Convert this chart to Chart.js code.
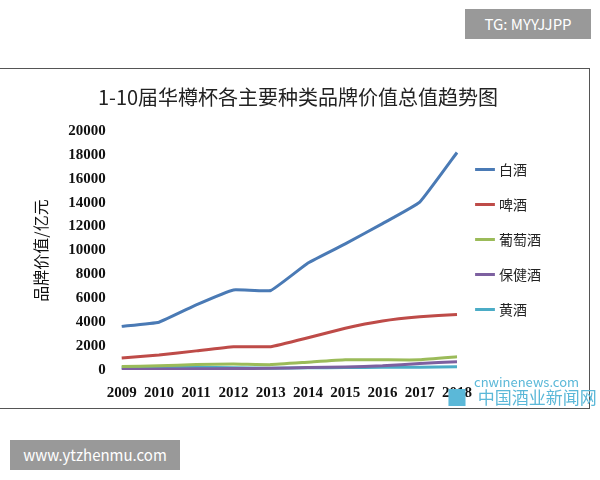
<!DOCTYPE html>
<html><head><meta charset="utf-8">
<script src="https://cdn.jsdelivr.net/npm/chart.js@4"></script>
<style>
body{margin:0;width:600px;height:480px;background:#fff;position:relative;overflow:hidden;font-family:"Noto Sans CJK SC",sans-serif}
#frame{position:absolute;left:0;top:68px;width:589px;height:339px;border:1px solid #555;border-left:none}
#wrap{position:absolute;left:0;top:0;width:589px;height:339px}
.tag{position:absolute;background:#999;color:#fff;font-size:15px}
#wm{position:absolute;left:440px;top:374px;color:#5bb8d8;font-size:13px;line-height:15px}
</style></head><body>
<div class="tag" style="left:465px;top:9px;width:126px;height:30px;line-height:30px;text-align:center">TG: MYYJJPP</div>
<div id="frame"><div id="wrap"><canvas id="c"></canvas></div></div>
<div id="wm"><span style="margin-left:34px">cnwinenews.com</span><br><span style="font-size:17px">▐▌ 中国酒业新闻网</span></div>
<div class="tag" style="left:10px;top:440px;width:170px;height:30px;line-height:30px;text-align:center;color:#fff">www.ytzhenmu.com</div>
<script>
const years = ["2009","2010","2011","2012","2013","2014","2015","2016","2017","2018"];
const baijiu = [3650, 4000, 5450, 6700, 6650, 8950, 10550, 12250, 14050, 18200];
const pijiu = [1000, 1250, 1600, 1950, 1950, 2700, 3500, 4100, 4450, 4650];
const putaojiu = [300, 350, 450, 500, 450, 650, 850, 850, 850, 1100];
const baojianjiu = [50, 80, 100, 120, 150, 200, 250, 350, 550, 700];
const huangjiu = [200, 220, 240, 180, 150, 180, 200, 220, 230, 280];
const yTicks = [0,2000,4000,6000,8000,10000,12000,14000,16000,18000,20000];

const serif = "'Liberation Serif', 'DejaVu Serif', serif";
function ds(label, data, color) {
  return {label, data, borderColor: color, backgroundColor: color, borderWidth: 3, pointRadius: 0, tension: 0.1};
}
new Chart(document.getElementById("c"), {
  type: "line",
  data: {
    labels: years,
    datasets: [
      ds("白酒", baijiu, "#4a7ab5"),
      ds("啤酒", pijiu, "#be4b48"),
      ds("葡萄酒", putaojiu, "#9bbb59"),
      ds("保健酒", baojianjiu, "#7d60a0"),
      ds("黄酒", huangjiu, "#4bacc6"),
    ],
  },
  options: {
    responsive: true,
    maintainAspectRatio: false,
    animation: false,
    layout: {padding: {left: 27, right: 20, top: 2, bottom: 0}},
    plugins: {
      title: {display: true, text: "1-10届华樽杯各主要种类品牌价值总值趋势图", color: "#222",
        font: {family: "'Noto Sans CJK SC'", size: 20, weight: "normal"}, padding: {top: 14, bottom: 22}},
      legend: {position: "right", labels: {usePointStyle: true, pointStyle: "line", boxWidth: 40,
        padding: 21, color: "#222", font: {family: "'Noto Sans CJK SC'", size: 14}}},
    },
    scales: {
      x: {grid: {display: false}, border: {display: false},
        ticks: {color: "#111", maxRotation: 0, autoSkip: false, padding: 6, font: {family: serif, size: 15, weight: "bold"}}},
      y: {min: 0, max: 20000, grid: {display: false}, border: {display: false},
        afterBuildTicks: a => { a.ticks = yTicks.map(v => ({value: v})); },
        title: {display: true, text: "品牌价值/亿元", color: "#111", padding: {bottom: 10}, font: {family: "'Noto Sans CJK SC'", size: 16}},
        ticks: {color: "#111", padding: 8, callback: v => String(v), font: {family: serif, size: 15, weight: "bold"}}},
    },
  },
  plugins: [{id: "legendGap", beforeInit(chart) {
    const orig = chart.legend.fit;
    chart.legend.fit = function () { orig.call(this); this.width += 18; };
  }}],
});
</script>
</body></html>
